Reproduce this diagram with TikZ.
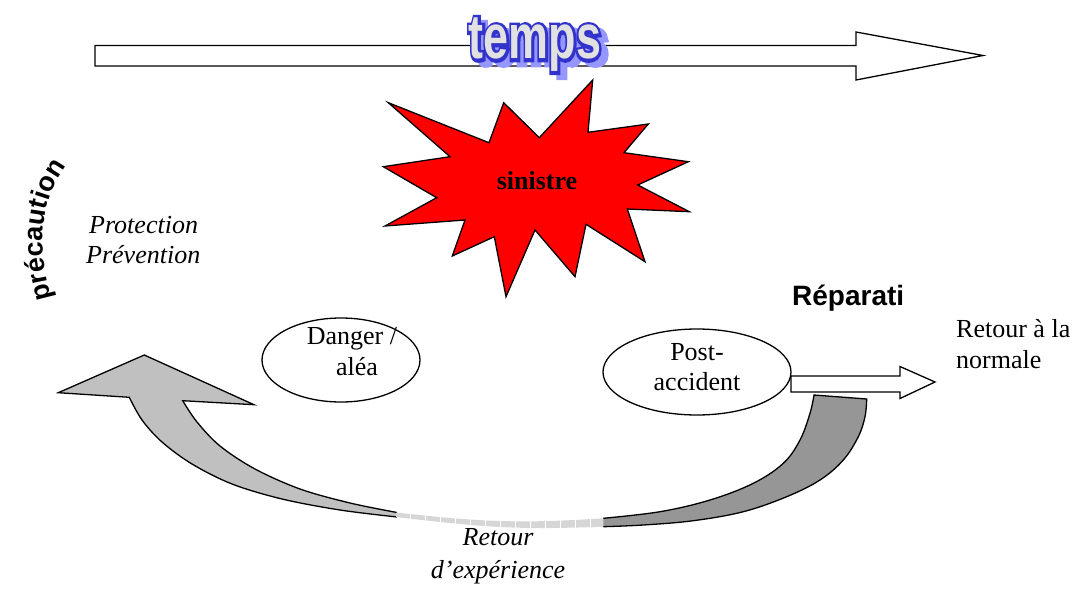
\documentclass[tikz,border=0pt]{standalone}
\usepackage{fontspec}
\setmainfont{Liberation Serif}
\setsansfont{Liberation Sans}
\usetikzlibrary{shapes.geometric,decorations.text}
\definecolor{starred}{RGB}{255,0,0}
\definecolor{wablue}{RGB}{51,51,204}
\definecolor{washadow}{RGB}{150,150,255}
\definecolor{wafill}{RGB}{225,225,225}
\definecolor{lgray}{RGB}{192,192,192}
\definecolor{dgray}{RGB}{150,150,150}
\definecolor{mgray}{RGB}{214,214,214}
% #1 fill colour, #2 stroke colour (pdf rgb), #3 render mode, #4 stroke width
\newcommand{\tempsword}[4]{\scalebox{1.02}[1.42]{\fontsize{44}{44}\selectfont\sffamily\bfseries\color{#1}\special{pdf:literal direct #3 Tr #4 w #2 RG}temps\special{pdf:literal direct 0 Tr 0 0 0 RG}}}
\begin{document}
\begin{tikzpicture}[x=1pt,y=-1pt,line join=miter,
  outl/.style={draw=black,line width=1.3pt},
  bodytext/.style={font=\fontsize{26}{30}\selectfont,inner sep=0pt,anchor=base},
  itext/.style={font=\fontsize{26}{30}\selectfont\itshape,inner sep=0pt,anchor=base},
  wa/.style={inner sep=0pt,anchor=base},
  bubble/.style={ellipse,draw=black,line width=1.3pt,fill=white,inner sep=0pt}]
\fill[white] (0,0) rectangle (1076,594);
\useasboundingbox (0,0) rectangle (1076,594);

% time arrow
\draw[outl,fill=white] (95,45.5) -- (856,45.5) -- (856,32) -- (983,55.5) -- (856,80) -- (856,66) -- (95,66) -- cycle;

% temps word art: shadow, blue outline, grey face
\node[wa] (tempsshadow) at (542,64) {\tempsword{washadow}{0.59 0.59 1}{2}{4.6}};
\node[wa] (tempsoutline) at (535,59) {\tempsword{wablue}{0.2 0.2 0.8}{2}{4.6}};
\node[wa] (temps) at (535,59) {\tempsword{wafill}{0.2 0.2 0.8}{0}{0}};

% starburst
\draw[outl,fill=starred] (388.3,102.7) -- (489,142.7) -- (503.7,102.7) -- (539.3,137.7) -- (592.7,80) -- (588,132.3) -- (648.3,124) -- (624,152.7) -- (688.3,161.7) -- (637.7,185) -- (689.3,211.7) -- (627.3,209) -- (645,261.7) -- (586,224.3) -- (575,276.7) -- (535,230) -- (506,296.7) -- (494.3,236.7) -- (452.3,256) -- (465,220) -- (385,226) -- (436.7,197.7) -- (383.3,166.7) -- (450,156.7) -- cycle;
\node[wa,font=\fontsize{26}{30}\selectfont\bfseries] (sinistre) at (537,189) {sinistre};

% precaution
\path[decorate,decoration={text along path,text align=center,
  text={|\fontsize{27}{27}\selectfont\sffamily\bfseries|précaution}}]
  (52,298) .. controls (40,255) and (36,207) .. (66,166);

% protection / prevention
\node[itext,anchor=base west] (protection) at (89,233) {Protection};
\node[itext,anchor=base west] (prevention) at (86,263) {Prévention};

% ellipses
\node[bubble,minimum width=158pt,minimum height=84pt] (danger) at (341,360) {};
\node[bodytext] (dangerA) at (352,344) {Danger /};
\node[bodytext] (dangerB) at (357,375) {aléa};
\node[bubble,minimum width=188pt,minimum height=86pt] (post) at (697,372) {};
\node[bodytext] (postA) at (697,360) {Post-};
\node[bodytext] (postB) at (697,390) {accident};

% reparation
\node[wa,anchor=base west,font=\fontsize{28}{30}\selectfont\sffamily\bfseries] (reparati) at (792,305) {Réparati};

% small arrow
\draw[outl,fill=white] (791,376) -- (900,376) -- (900,366.5) -- (935,382) -- (900,398.5) -- (900,392) -- (791,392) -- cycle;
\node[bodytext,anchor=base west] (retourA) at (956,337) {Retour à la};
\node[bodytext,anchor=base west] (retourB) at (956,368) {normale};

% big curved arrow: left light part
\fill[lgray] plot[smooth,tension=0.55] coordinates {(397,512.5) (350,503) (300,489) (255,469) (220,446) (197,422) (182.7,400.7)}
  -- (254,404.7) -- (144.3,355) -- (58.3,392.7) -- (129.3,397.3)
  -- plot[smooth,tension=0.55] coordinates {(129.3,397.3) (142,420) (162,442) (192,464) (232,484) (282,499) (340,510) (397,517)} -- cycle;
\draw[outl] plot[smooth,tension=0.55] coordinates {(397,512.5) (350,503) (300,489) (255,469) (220,446) (197,422) (182.7,400.7)}
  -- (254,404.7) -- (144.3,355) -- (58.3,392.7) -- (129.3,397.3)
  -- plot[smooth,tension=0.55] coordinates {(129.3,397.3) (142,420) (162,442) (192,464) (232,484) (282,499) (340,510) (397,517)};
% middle part
\fill[mgray] plot[smooth,tension=0.6] coordinates {(396,512.5) (450,518) (500,521) (550,521) (604,518.3)}
  -- plot[smooth,tension=0.6] coordinates {(604,526.7) (550,528) (500,527) (450,523) (396,517)} -- cycle;
\foreach \xx [count=\i] in {410,425,...,590}
  \draw[white,line width=0.6pt] (\xx,510) -- (\xx,530);
% right dark part
\fill[dgray] plot[smooth,tension=0.6] coordinates {(603.3,518.3) (660,511.7) (710,500) (753.3,483.3) (783.3,463.3) (800,440) (810,413.3) (814,395)}
  -- (866.7,399) -- plot[smooth,tension=0.6] coordinates {(866.7,399) (865,416.7) (858.3,436.7) (843.3,460) (820,480) (786.7,496.7) (743.3,511.7) (693.3,520.7) (643.3,525) (603.3,526.7)} -- cycle;
\draw[outl] plot[smooth,tension=0.6] coordinates {(603.3,518.3) (660,511.7) (710,500) (753.3,483.3) (783.3,463.3) (800,440) (810,413.3) (814,395)}
  -- (866.7,399) -- plot[smooth,tension=0.6] coordinates {(866.7,399) (865,416.7) (858.3,436.7) (843.3,460) (820,480) (786.7,496.7) (743.3,511.7) (693.3,520.7) (643.3,525) (603.3,526.7)};

% retour d'experience
\node[itext] (rexA) at (498,545) {Retour};
\node[itext] (rexB) at (498,578) {d’expérience};
\end{tikzpicture}
\end{document}
